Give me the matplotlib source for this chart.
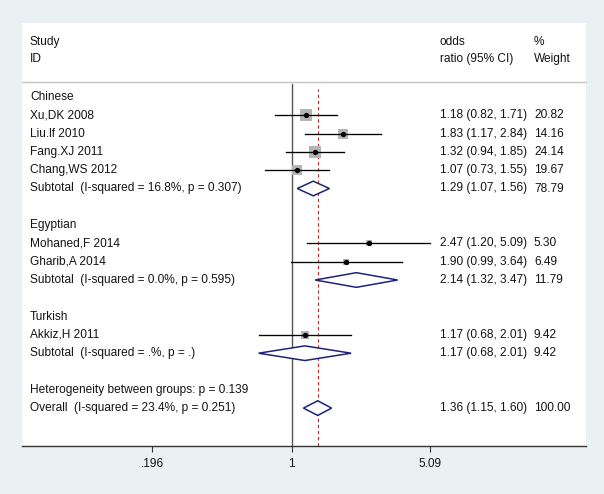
import numpy as np
import matplotlib
matplotlib.use("Agg")
import matplotlib.pyplot as plt
from matplotlib.patches import Polygon

plt.rcParams['font.family'] = ['Liberation Sans', 'DejaVu Sans']

# ---------------- data ----------------
groups = ["Chinese", "Egyptian", "Turkish"]
study_names = [
    ["Xu,DK 2008", "Liu.lf 2010", "Fang.XJ 2011", "Chang,WS 2012"],
    ["Mohaned,F 2014", "Gharib,A 2014"],
    ["Akkiz,H 2011"],
]
study_or = [[1.18, 1.83, 1.32, 1.07], [2.47, 1.90], [1.17]]
study_lo = [[0.82, 1.17, 0.94, 0.73], [1.20, 0.99], [0.68]]
study_hi = [[1.71, 2.84, 1.85, 1.55], [5.09, 3.64], [2.01]]
study_wt = [[20.82, 14.16, 24.14, 19.67], [5.30, 6.49], [9.42]]

sub_labels = ["Subtotal  (I-squared = 16.8%, p = 0.307)",
              "Subtotal  (I-squared = 0.0%, p = 0.595)",
              "Subtotal  (I-squared = .%, p = .)"]
sub_or = [1.29, 2.14, 1.17]
sub_lo = [1.07, 1.32, 0.68]
sub_hi = [1.56, 3.47, 2.01]
sub_wt = [78.79, 11.79, 9.42]

het_label = "Heterogeneity between groups: p = 0.139"
overall_label = "Overall  (I-squared = 23.4%, p = 0.251)"
overall_or, overall_lo, overall_hi, overall_wt = 1.36, 1.15, 1.60, 100.00

tick_vals = [0.196, 1, 5.09]
tick_labels = [".196", "1", "5.09"]

# ---------------- layout ----------------
W, H = 604, 494
bg = '#EAF1F3'
fig = plt.figure(figsize=(W / 100, H / 100), dpi=100, facecolor=bg)

L, R, T, B = 22, 586, 23, 446          # white plot region in pixels
ax = fig.add_axes([L / W, (H - B) / H, (R - L) / W, (B - T) / H])
ax.set_facecolor('white')

x_null_px, k = 291.5, 85.3            # pixel of OR=1, pixels per ln unit
ax.set_xscale('log')
ax.set_xlim(np.exp((L - x_null_px) / k), np.exp((R - x_null_px) / k))

row0_px, row_h = 97, 18.3
ax.set_ylim((B - row0_px) / row_h, (T - row0_px) / row_h)
ymax = (B - row0_px) / row_h

def fx(px):
    return (px - L) / (R - L)

fs = 8.6
tcol = '#141414'
txt_x, or_x, wt_x = fx(30), fx(440), fx(534)
trans = ax.get_yaxis_transform()

def put(x, y, s):
    ax.text(x, y, s, transform=trans, ha='left', va='center', fontsize=fs, color=tcol)

# header
put(txt_x, -3.0, "Study")
put(txt_x, -2.06, "ID")
put(or_x, -3.0, "odds")
put(or_x, -2.06, "ratio (95% CI)")
put(wt_x, -3.0, "%")
put(wt_x, -2.06, "Weight")
ax.plot([0, 1], [-0.82, -0.82], transform=trans, color='#C4C4C4', lw=1.0, clip_on=False)

# vertical reference lines
ax.plot([1, 1], [ymax, -0.72], color='#555555', lw=1.0, zorder=1)
ax.plot([overall_or, overall_or], [ymax, -0.45], color='#B03030', lw=0.8,
        dashes=(3, 2.5), zorder=1)

navy = '#1E2378'
def diamond(y, o, lo, hi):
    h = 0.40
    ax.add_patch(Polygon([(lo, y), (o, y - h), (hi, y), (o, y + h)], closed=True,
                         facecolor='white', edgecolor=navy, lw=1.1, zorder=4))

def fmt(o, lo, hi):
    return f"{o:.2f} ({lo:.2f}, {hi:.2f})"

row = 0
for g in range(len(groups)):
    put(txt_x, row, groups[g])
    row += 1
    for i in range(len(study_names[g])):
        o, lo, hi, w = study_or[g][i], study_lo[g][i], study_hi[g][i], study_wt[g][i]
        side_px = 12.0 * np.sqrt(w / 24.14)
        ax.scatter([o], [row], marker='s', s=(side_px * 0.72) ** 2, color='#B4B4B4',
                   linewidths=0, zorder=2)
        ax.plot([lo, hi], [row, row], color='black', lw=0.95, zorder=3)
        ax.plot([o], [row], marker='o', markersize=2.8, color='black', zorder=5)
        put(txt_x, row, study_names[g][i])
        put(or_x, row, fmt(o, lo, hi))
        put(wt_x, row, f"{w:.2f}")
        row += 1
    diamond(row, sub_or[g], sub_lo[g], sub_hi[g])
    put(txt_x, row, sub_labels[g])
    put(or_x, row, fmt(sub_or[g], sub_lo[g], sub_hi[g]))
    put(wt_x, row, f"{sub_wt[g]:.2f}")
    row += 2

put(txt_x, row, het_label)
row += 1
diamond(row, overall_or, overall_lo, overall_hi)
put(txt_x, row, overall_label)
put(or_x, row, fmt(overall_or, overall_lo, overall_hi))
put(wt_x, row, f"{overall_wt:.2f}")

# axes styling
for s in ['top', 'left', 'right']:
    ax.spines[s].set_visible(False)
ax.spines['bottom'].set_color('#333333')
ax.spines['bottom'].set_linewidth(1.0)
ax.set_yticks([])
ax.set_xticks(tick_vals)
ax.set_xticklabels(tick_labels)
ax.xaxis.set_minor_locator(matplotlib.ticker.NullLocator())
ax.tick_params(axis='x', length=4.5, width=0.8, color='#333333', labelsize=fs,
               labelcolor=tcol, pad=4)

fig.savefig('out.png', dpi=100, facecolor=bg)
